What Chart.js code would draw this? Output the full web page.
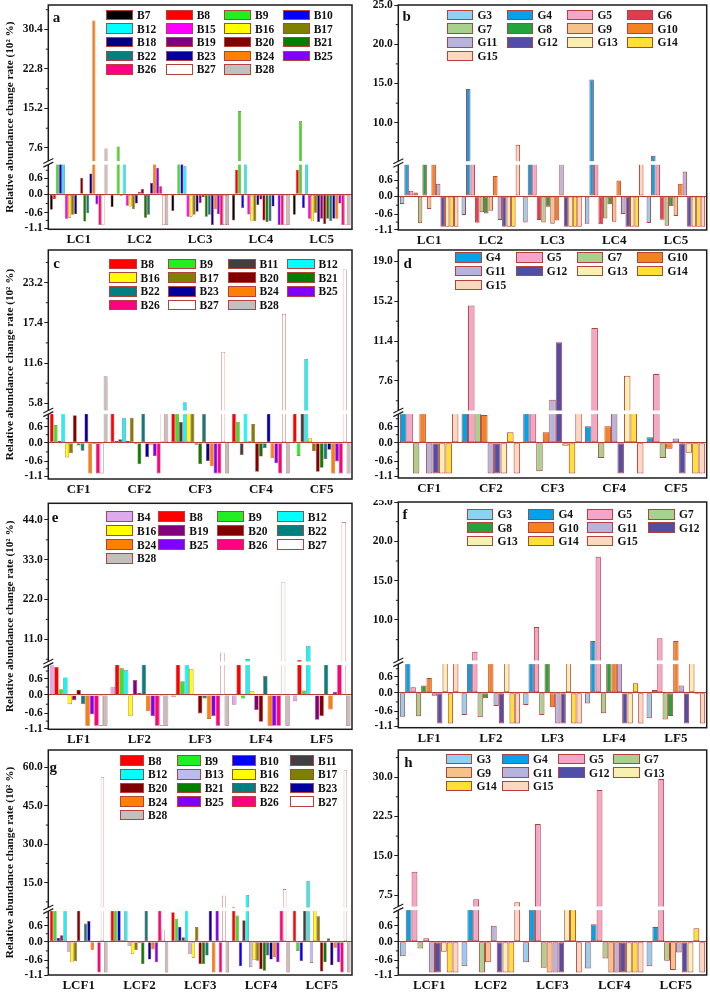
<!DOCTYPE html>
<html><head><meta charset="utf-8">
<script src="https://cdn.jsdelivr.net/npm/chart.js@4.4.1/dist/chart.umd.min.js"></script>
<style>
html,body{margin:0;padding:0;background:#fff;}
body{position:relative;width:710px;height:992px;overflow:hidden;font-family:'Liberation Serif','Times New Roman',serif;}
canvas{position:absolute;}
.lb{position:absolute;box-sizing:border-box;border:1px solid #b5413d;}
.lt{position:absolute;font-weight:bold;font-size:11.5px;line-height:12px;color:#111;white-space:nowrap;}
.let{position:absolute;font-weight:bold;font-size:15px;line-height:15px;color:#111;transform:translate(-50%,-50%);}
</style></head><body>
<script>
// ---------------- DATA ----------------
const catsLC  = ['LC1','LC2','LC3','LC4','LC5'];
const catsCF  = ['CF1','CF2','CF3','CF4','CF5'];
const catsLF  = ['LF1','LF2','LF3','LF4','LF5'];
const catsLCF = ['LCF1','LCF2','LCF3','LCF4','LCF5'];

const lowerTicks = [-1.1, -0.6, 0.0, 0.6];
const lowerMinor = [-0.85, -0.3, 0.3, 0.9];

const upperTicksA = [7.6, 15.2, 22.8, 30.4];  const upperMinorA = [11.4, 19.0, 26.6, 34.2];
const upperTicksB = [10, 15, 20, 25];         const upperMinorB = [7.5, 12.5, 17.5, 22.5];
const upperTicksC = [5.8, 11.6, 17.4, 23.2];  const upperMinorC = [8.7, 14.5, 20.3, 26.1];
const upperTicksD = [7.6, 11.4, 15.2, 19.0];  const upperMinorD = [5.7, 9.5, 13.3, 17.1];
const upperTicksE = [11, 22, 33, 44];         const upperMinorE = [5.5, 16.5, 27.5, 38.5];
const upperTicksF = [10, 15, 20, 25];         const upperMinorF = [7.5, 12.5, 17.5, 22.5];
const upperTicksG = [15, 30, 45, 60];         const upperMinorG = [7.5, 22.5, 37.5, 52.5];
const upperTicksH = [7.5, 15, 22.5, 30];      const upperMinorH = [11.25, 18.75, 26.25, 33.75];

// Panel a (rows = series, columns = LC1..LC5), unit 10^2 %
const seriesA = ['B7','B8','B9','B10','B12','B15','B16','B17','B18','B19','B20','B21','B22','B23','B24','B25','B26','B27','B28'];
const valuesA = [
  [-0.50, -0.42, -0.54, -0.85, -0.67],
  [-0.15,  0.03,  0.00,  0.92,  0.92],
  [ 3.0,   7.9,   3.0,  14.7,  12.8 ],
  [ 3.0,  -0.05,  3.0,  -0.45, -0.45],
  [ 3.0,   3.0,   1.05,  3.0,   3.0 ],
  [-0.80, -0.37, -0.73, -0.66, -0.80],
  [-0.76, -0.40, -0.73, -0.88, -0.88],
  [-0.67, -0.49, -0.67, -0.88, -0.60],
  [-0.65, -0.30, -0.57, -0.35, -0.90],
  [ 0.00,  0.10, -0.29, -0.17, -0.80],
  [ 0.62,  0.20, -0.10, -0.85, -0.97],
  [-0.89, -0.76, -0.73, -0.90, -0.80],
  [-0.62, -0.67, -0.67, -0.88, -0.87],
  [ 0.78,  0.43, -1.00, -0.40, -0.80],
  [32.1,   3.0,  -0.49,  0.00, -0.80],
  [-0.33,  1.00, -0.65, -1.00, -0.30],
  [-1.00,  0.30, -1.00, -1.00, -1.00],
  [-1.00, -1.00, -1.00, -1.00, -1.00],
  [ 7.5,  -1.00, -1.00, -1.00, -1.00]
];

const seriesB = ['G3','G4','G5','G6','G7','G8','G9','G10','G11','G12','G13','G14','G15'];
const valuesB = [
  [-0.26, -0.62, -0.86, -0.90, -0.88],
  [ 3.0,  14.3,   3.0,  15.5,   5.8 ],
  [ 0.20,  3.0,   3.0,   3.0,   3.0 ],
  [ 0.13, -0.87, -0.78, -0.92, -0.77],
  [-0.89, -0.53, -0.86, -0.73, -0.97],
  [ 3.0,  -0.57, -0.35, -0.27, -0.33],
  [-0.42, -0.48, -0.90, -0.84, -0.65],
  [ 3.0,   0.75, -0.80,  0.58,  0.46],
  [ 0.46, -0.78,  3.0,  -0.59,  0.92],
  [-1.00, -1.00, -1.00, -1.00, -1.00],
  [-1.00, -1.00, -1.00, -1.00, -1.00],
  [-1.00, -1.00, -1.00, -1.00, -1.00],
  [-1.00,  7.2,  -1.00,  3.0,  -1.00]
];

const seriesC = ['B8','B9','B11','B12','B16','B17','B20','B21','B22','B23','B24','B25','B26','B27','B28'];
const valuesC = [
  [ 3.0,   3.0,   3.0,   3.0,   3.0 ],
  [ 0.66,  0.06,  3.0,   0.78, -0.43],
  [ 0.06,  0.13,  0.78, -0.40,  3.0 ],
  [ 3.0,   0.94,  5.95,  3.0,  12.2 ],
  [-0.48,  0.07,  3.0,   0.05,  0.17],
  [-0.34,  0.94,  3.0,   0.70, -0.28],
  [ 1.03, -0.04, -0.07, -0.95, -0.95],
  [-0.09, -0.70, -0.69, -0.45, -0.82],
  [-0.26,  3.0,   1.08, -0.17, -0.53],
  [ 3.0,  -0.47, -0.60,  3.0,  -0.23],
  [-1.00, -0.07, -0.77, -0.50, -1.00],
  [-0.04, -0.43, -1.00, -0.67, -0.61],
  [-1.00, -1.00, -1.00, -1.00, -1.00],
  [-1.00,  3.0,  13.2,  18.7,  25.1 ],
  [ 9.7,   3.0,  -1.00, -1.00, -1.00]
];

const seriesD = ['G4','G5','G7','G10','G11','G12','G13','G14','G15'];
const valuesD = [
  [ 3.0,   3.0,   3.0,   0.62,  0.20],
  [ 3.0,  14.8,   3.0,  12.65,  8.25],
  [-1.00,  3.0,  -0.93, -0.50, -0.50],
  [ 3.0,   1.04,  0.39,  0.62, -0.20],
  [-1.00, -1.00,  5.8,   3.0,   0.16],
  [-1.00, -1.00, 11.3,  -1.00, -1.00],
  [-1.00, -1.00, -0.10,  8.1,  -0.33],
  [-1.00,  0.39, -1.00,  3.0,  -1.00],
  [ 3.0,  -1.00,  3.0,  -1.00, -1.00]
];

const seriesE = ['B4','B8','B9','B12','B16','B19','B20','B22','B24','B25','B26','B27','B28'];
const valuesE = [
  [ 3.0,   0.31, -0.07, -0.32, -0.20],
  [ 1.05,  3.0,   3.0,   3.0,   5.3 ],
  [ 0.22,  1.00,  0.52, -0.11,  0.17],
  [ 0.66,  0.94,  3.0,   5.55,  9.2 ],
  [-0.30, -0.69,  0.98,  0.15,  0.00],
  [-0.17,  0.56, -0.03, -0.49, -0.81],
  [ 0.20,  0.08, -0.60, -0.87, -0.68],
  [-0.30,  3.0,  -0.11,  0.71,  3.0 ],
  [-1.00, -0.53, -0.78, -1.00, -0.47],
  [-0.63, -0.68, -0.68, -1.00,  0.12],
  [-1.00, -1.00, -1.00, -1.00,  3.0 ],
  [-1.00, -1.00,  7.3,  26.7,  43.4 ],
  [-1.00, -1.00, -1.00, -1.00, -1.00]
];

const seriesF = ['G3','G4','G5','G7','G8','G10','G11','G12','G13','G14','G15'];
const valuesF = [
  [-0.78, -0.73, -0.40, -0.35, -0.83],
  [ 3.0,   3.0,   3.0,   7.33,  0.10],
  [ 0.20,  5.97,  9.1,  18.05,  7.67],
  [-0.77, -0.80, -0.73, -0.67, -0.87],
  [ 0.27, -0.18,  3.0,   3.0,  -0.76],
  [ 0.55,  3.0,  -0.47,  3.0,   7.33],
  [-0.10, -0.43, -1.00,  3.0,   0.27],
  [-1.00, -1.00, -1.00, -1.00, -1.00],
  [ 3.0,   3.0,   3.0,  -1.00,  3.0 ],
  [-1.00, -1.00, -1.00,  0.35, -0.05],
  [ 3.0,  -1.00, -1.00, -1.00, -1.00]
];

const seriesG = ['B8','B9','B10','B11','B12','B13','B16','B17','B20','B21','B22','B23','B24','B25','B26','B27','B28'];
const valuesG = [
  [ 3.0,   3.0,   1.10,  5.6,   3.0 ],
  [ 3.0,   3.0,   0.86,  0.98, -0.30],
  [ 0.15,  3.0,   0.56, -0.80, -0.63],
  [ 0.24,  0.05,  0.17,  0.80,  3.0 ],
  [ 3.0,   3.0,   3.0,  10.2,  15.7 ],
  [-0.33, -0.15, -0.40, -0.83, -0.69],
  [-0.67, -0.40, -0.52, -0.60,  3.0 ],
  [-0.63, -0.27,  0.55, -0.62,  0.95],
  [ 3.0,  -0.05, -0.73, -0.90, -0.97],
  [-0.03, -0.73, -0.73, -0.95, -0.67],
  [ 0.68,  3.0,  -0.45, -0.45,  0.13],
  [ 0.78, -0.58,  3.0,  -0.58, -0.77],
  [-0.26, -0.25, -1.00, -0.50, -0.20],
  [ 0.02, -0.67,  3.0,  -0.67, -0.67],
  [-1.00,  3.0,  -1.00,  3.0,  -1.00],
  [56.3,   0.42,  9.9,  12.5,  58.9 ],
  [-1.00, -1.00, -1.00, -1.00, -1.00]
];

const seriesH = ['G3','G4','G5','G7','G9','G11','G12','G13','G14','G15'];
const valuesH = [
  [-0.47, -0.80, -0.67, -0.87, -0.80],
  [ 3.0,   3.0,   3.0,   0.65,  0.55],
  [11.96,  6.67, 21.07, 27.56, 29.67],
  [-0.22, -1.00, -0.85, -0.55, -0.62],
  [ 0.13, -0.67, -1.00, -1.00, -0.92],
  [-1.00,  0.60, -1.00, -1.00, -0.35],
  [-1.00, -1.00, -1.00, -1.00, -1.00],
  [-0.33, -1.00,  3.0,  -1.00, -1.00],
  [-1.00, -1.00,  3.0,  -1.00,  0.50],
  [-1.00,  6.1,  -1.00, -1.00, -1.00]
];

// ---------------- STYLE ----------------
const BORDER = '#b5413d';
const COLORS = {
  B4:'#ddaaee', B7:'#000000', B8:'#ff0000', B9:'#22ee22', B10:'#0000ff', B11:'#404040',
  B12:'#00ffff', B13:'#bbbbf0', B15:'#ff00ff', B16:'#ffff00', B17:'#808000', B18:'#000080',
  B19:'#800080', B20:'#800000', B21:'#008000', B22:'#008080', B23:'#0000a0', B24:'#ff8000',
  B25:'#8000ff', B26:'#ff0080', B27:'#ffffff', B28:'#c0c0c0',
  G3:'#8fd0f5', G4:'#00a2e8', G5:'#f4a6c8', G6:'#e03c4e', G7:'#a9d18e', G8:'#22a33c',
  G9:'#f4c28a', G10:'#f58220', G11:'#b4b4dc', G12:'#4f4fa8', G13:'#f8f0b0', G14:'#ffe033', G15:'#fdd8c0'
};
const FONT = "'Liberation Serif','Times New Roman',serif";
const NEG_PX = 30.7;      // px per unit below zero
const POS_PX = 16 / 0.6;  // px per unit above zero (lower segment)

const PANELS = [
  {cats:catsLC, series:seriesA, values:valuesA, up:upperTicksA, upMinor:upperMinorA,
   canvas:[0,0,356,248], area:[48.3,5,352,229.3], z:35, b:66.5, brkVal:4.75, topVal:35.1, title:true, bw:0.6,
   letter:'a', lp:[56.5,17], lg:{x:[106,165.7,224,282.7], y0:15, dy:13.6, w:27}},
  {cats:catsLC, series:seriesB, values:valuesB, up:upperTicksB, upMinor:upperMinorB,
   canvas:[356,0,354,248], area:[398.3,5,706.7,230], z:34, b:67, brkVal:4.88, topVal:25.0, title:false, bw:1,
   letter:'b', lp:[406.7,15.5], lg:{x:[446.7,506.7,566.7,626.7], y0:15, dy:13.7, w:26.7}},
  {cats:catsCF, series:seriesC, values:valuesC, up:upperTicksC, upMinor:upperMinorC,
   canvas:[0,248,356,252], area:[48.3,250,352,479], z:36.3, b:66.7, brkVal:4.49, topVal:27.9, title:true, bw:0.6,
   letter:'c', lp:[56.7,262.7], lg:{x:[109.3,168.3,228.3,287.3], y0:264, dy:13.7, w:27.3}},
  {cats:catsCF, series:seriesD, values:valuesD, up:upperTicksD, upMinor:upperMinorD,
   canvas:[356,248,354,252], area:[398.3,250,706.7,478], z:35.3, b:65.7, brkVal:4.6, topVal:20.1, title:false, bw:1,
   letter:'d', lp:[407.7,262.7], lg:{x:[455,516,576.7,636.7], y0:257.3, dy:13.8, w:26.7}},
  {cats:catsLF, series:seriesE, values:valuesE, up:upperTicksE, upMinor:upperMinorE,
   canvas:[0,500,356,248], area:[48.3,503.3,352,729.3], z:34.3, b:66, brkVal:4.37, topVal:48.6, title:true, bw:0.6,
   letter:'e', lp:[55,516.7], lg:{x:[106,158.3,217.3,276.7], y0:516.7, dy:13.9, w:27}},
  {cats:catsLF, series:seriesF, values:valuesF, up:upperTicksF, upMinor:upperMinorF,
   canvas:[356,500,354,248], area:[398.3,502,706.7,727.7], z:35, b:65.4, brkVal:4.62, topVal:25.0, title:false, bw:1,
   letter:'f', lp:[405,514], lg:{x:[466.7,527.7,586.7,648.3], y0:514.3, dy:13.4, w:26.7}},
  {cats:catsLCF, series:seriesG, values:valuesG, up:upperTicksG, upMinor:upperMinorG,
   canvas:[0,748,356,244], area:[48.3,750,352,975], z:33.3, b:65.7, brkVal:4.6, topVal:66.8, title:true, bw:0.6,
   letter:'g', lp:[53.3,766.7], lg:{x:[120,176.7,231.7,290], y0:760.7, dy:13.6, w:24}},
  {cats:catsLCF, series:seriesH, values:valuesH, up:upperTicksH, upMinor:upperMinorH,
   canvas:[356,748,354,244], area:[398.3,750,706.7,975], z:33.3, b:66.7, brkVal:4.96, topVal:35.2, title:false, bw:1,
   letter:'h', lp:[408.3,761.7], lg:{x:[445.7,502.3,558.3,613.3], y0:759, dy:13.6, w:26.7}}
];

// ---------------- BROKEN SCALE ----------------
const BRK = new Map();
class BrokenScale extends Chart.LinearScale {
  buildTicks() {
    const c = BRK.get(this.chart.canvas);
    return c.ticks.map(v => ({ value: v }));
  }
  _dec(v) {
    const k = BRK.get(this.chart.canvas).knots;
    if (v <= k[0][0]) return k[0][1] + (v - k[0][0]) / (k[1][0] - k[0][0]) * (k[1][1] - k[0][1]);
    for (let i = 1; i < k.length; i++) {
      if (v <= k[i][0]) {
        const v0 = k[i-1][0], d0 = k[i-1][1], v1 = k[i][0], d1 = k[i][1];
        return d0 + (v - v0) / (v1 - v0) * (d1 - d0);
      }
    }
    const n = k.length;
    return k[n-1][1] + (v - k[n-1][0]) / (k[n-1][0] - k[n-2][0]) * (k[n-1][1] - k[n-2][1]);
  }
  getPixelForValue(v) {
    if (v === null || v === undefined || isNaN(v)) return NaN;
    return this.getPixelForDecimal(this._dec(v));
  }
  getValueForPixel(p) {
    const d = this.getDecimalForPixel(p);
    const k = BRK.get(this.chart.canvas).knots;
    for (let i = 1; i < k.length; i++) {
      if (d <= k[i][1] && k[i][1] > k[i-1][1]) {
        return k[i-1][0] + (d - k[i-1][1]) / (k[i][1] - k[i-1][1]) * (k[i][0] - k[i-1][0]);
      }
    }
    return k[k.length-1][0];
  }
}
BrokenScale.id = 'broken';
Chart.register(BrokenScale);

const deco = {
  id: 'deco',
  afterDatasetsDraw(chart) {
    const c = BRK.get(chart.canvas), a = chart.chartArea, ctx = chart.ctx;
    const y = chart.scales.y.getPixelForDecimal(c.bDec);
    ctx.save();
    ctx.fillStyle = '#ffffff';
    ctx.fillRect(a.left, y - 1.8, a.right - a.left, 3.6);
    ctx.restore();
  },
  afterDraw(chart) {
    const c = BRK.get(chart.canvas), a = chart.chartArea, ctx = chart.ctx, sy = chart.scales.y;
    ctx.save();
    ctx.strokeStyle = '#1c1c1c';
    ctx.lineWidth = 1.5;
    ctx.strokeRect(a.left, a.top, a.right - a.left, a.bottom - a.top);
    ctx.lineWidth = 1;
    c.minor.forEach(v => {
      const yy = sy.getPixelForValue(v);
      if (yy < a.top || yy > a.bottom) return;
      ctx.beginPath(); ctx.moveTo(a.left, yy); ctx.lineTo(a.left - 2.5, yy); ctx.stroke();
    });
    const y = sy.getPixelForDecimal(c.bDec);
    ctx.fillStyle = '#ffffff';
    ctx.fillRect(a.left - 2, y - 1.8, 4, 3.6);
    ctx.lineWidth = 1.2;
    [-1.8, 1.8].forEach(o => {
      ctx.beginPath(); ctx.moveTo(a.left - 5, y + o + 2.5); ctx.lineTo(a.left + 5, y + o - 2.5); ctx.stroke();
    });
    ctx.restore();
  }
};

function addLegend(p) {
  p.series.forEach((name, i) => {
    const col = i % 4, row = Math.floor(i / 4);
    const cy = p.lg.y0 + row * p.lg.dy;
    const bx = document.createElement('div');
    bx.className = 'lb';
    bx.style.left = p.lg.x[col] + 'px';
    bx.style.top = (cy - 5.25) + 'px';
    bx.style.width = p.lg.w + 'px';
    bx.style.height = '10.5px';
    bx.style.background = COLORS[name];
    document.body.appendChild(bx);
    const t = document.createElement('div');
    t.className = 'lt';
    t.textContent = name;
    t.style.left = (p.lg.x[col] + p.lg.w + 4) + 'px';
    t.style.top = (cy - 6) + 'px';
    document.body.appendChild(t);
  });
  const l = document.createElement('div');
  l.className = 'let';
  l.textContent = p.letter;
  l.style.left = p.lp[0] + 'px';
  l.style.top = p.lp[1] + 'px';
  document.body.appendChild(l);
}

PANELS.forEach(p => {
  const [cx, cy, cw, ch] = p.canvas;
  const [L, T, R, B] = p.area;
  const H = B - T;
  const cv = document.createElement('canvas');
  cv.width = cw; cv.height = ch;
  cv.style.left = cx + 'px'; cv.style.top = cy + 'px';
  cv.style.width = cw + 'px'; cv.style.height = ch + 'px';
  document.body.appendChild(cv);
  const lowMin = -p.z / NEG_PX;
  const brkLow = (p.b - p.z) / POS_PX;
  BRK.set(cv, {
    knots: [[lowMin, 0], [0, p.z / H], [brkLow, p.b / H], [p.brkVal, p.b / H], [p.topVal, 1]],
    ticks: lowerTicks.concat(p.up),
    minor: lowerMinor.concat(p.upMinor),
    bDec: p.b / H
  });
  const yw = L - cx, xh = cy + ch - B;
  new Chart(cv, {
    type: 'bar',
    data: {
      labels: p.cats,
      datasets: p.series.map((name, i) => ({
        label: name,
        data: p.values[i],
        backgroundColor: COLORS[name],
        borderColor: BORDER,
        borderWidth: p.bw,
        borderSkipped: false,
        categoryPercentage: 0.95,
        barPercentage: 1.0
      }))
    },
    options: {
      responsive: false,
      animation: false,
      events: [],
      layout: { padding: { left: 0, top: T - cy, right: cx + cw - R, bottom: 0 } },
      plugins: { legend: { display: false }, tooltip: { enabled: false } },
      scales: {
        x: {
          type: 'category',
          offset: true,
          grid: { display: false, drawTicks: false, tickLength: 0 },
          border: { display: false },
          ticks: { font: { family: FONT, size: 13, weight: 'bold' }, color: '#111', padding: 3, maxRotation: 0 },
          afterFit: s => { s.height = xh; s.paddingLeft = 0; s.paddingRight = 0; }
        },
        y: {
          type: 'broken',
          position: 'left',
          min: lowMin,
          max: p.topVal,
          grid: {
            drawOnChartArea: true,
            color: c => (c.tick && c.tick.value === 0) ? BORDER : 'rgba(0,0,0,0)',
            tickColor: '#1c1c1c',
            tickLength: 4,
            lineWidth: 1
          },
          border: { display: false },
          ticks: {
            autoSkip: false,
            font: { family: FONT, size: 11.5, weight: 'bold', lineHeight: 1 },
            color: '#111',
            padding: 1.5,
            callback: v => Number(v).toFixed(1)
          },
          title: {
            display: p.title,
            text: 'Relative abundance change rate (10\u00B2 %)',
            font: { family: FONT, size: 11.2, weight: 'bold' },
            color: '#111',
            padding: { top: 3.5, bottom: 0 }
          },
          afterFit: s => { s.width = yw; s.paddingTop = 0; s.paddingBottom = 0; }
        }
      }
    },
    plugins: [deco]
  });
  addLegend(p);
});
</script>
</body></html>
